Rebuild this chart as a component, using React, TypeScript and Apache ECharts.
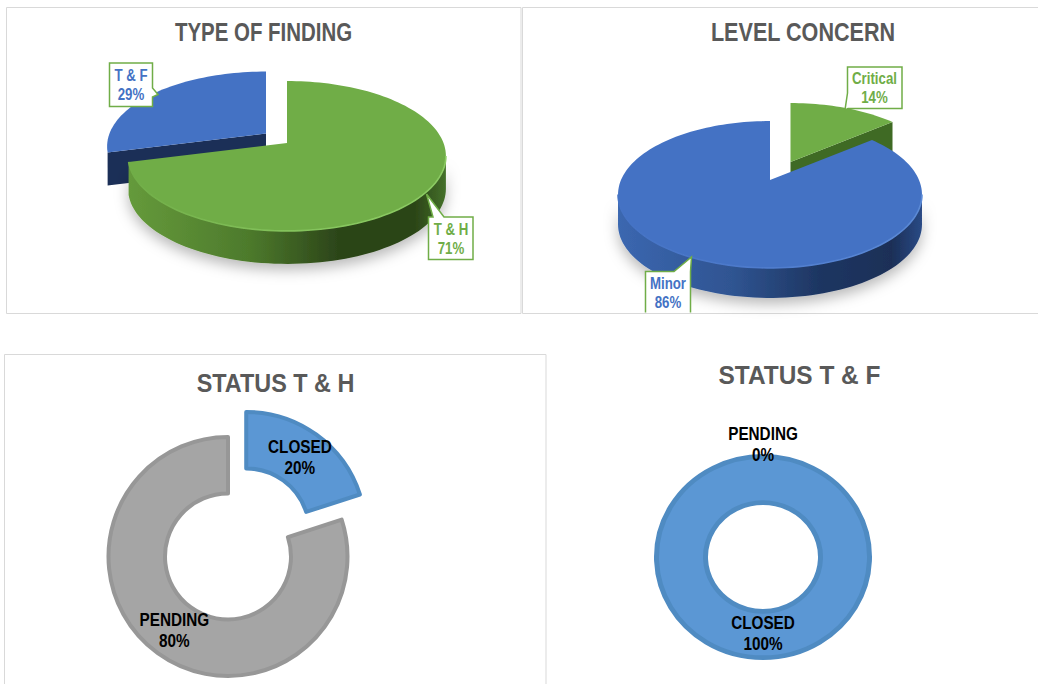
import React, { useEffect, useRef } from "react";
import * as echarts from "echarts";

// ---- data ----
const findingCategories = ["T & H", "T & F"];
const findingValues = [71, 29];
const concernCategories = ["Critical", "Minor"];
const concernValues = [14, 86];
const statusHCategories = ["CLOSED", "PENDING"];
const statusHValues = [20, 80];
const statusFCategories = ["PENDING", "CLOSED"];
const statusFValues = [0, 100];

const SANS = '"Liberation Sans",Arial,sans-serif';
const GREEN = "#70ad47";
const BLUE = "#4472c4";
const RING_BLUE = "#5b97d4";
const GRAY = "#a5a5a5";
const TITLE = "#595959";
const NARROW_LABEL = 0.85;
const NARROW_CALLOUT = 0.78;

type Pie3D = {
  cx: number; cy: number; X: number; Y: number; k: number; depth: number;
  colors: string[];
  cutColors: string[];
  offsets: number[][];
  front: number;
  sideStops: string[][];
  rimColors: string[][];
};

const pieFinding: Pie3D = {
  cx: 287, cy: 143, X: 156.5, Y: 72.7, k: 0.173, depth: 33,
  colors: [GREEN, BLUE],
  cutColors: ["#3f6a24", "#1b2f57"],
  offsets: [[0, 0], [-21, -9.5]],
  front: 0,
  sideStops: [["#659a3b", "#4d7a2c", "#2c4519", "#2b4417", "#44702a"], ["#2f5491", "#2f5491", "#1e3662", "#1b2f57", "#1b2f57"]],
  rimColors: [["#8ccb63", "#84c35c", "#70ad47"], ["#5b8ad6", "#4f7ccd", "#4472c4"]],
};

const pieConcern: Pie3D = {
  cx: 770, cy: 180, X: 149, Y: 70.6, k: 0.197, depth: 30,
  colors: [GREEN, BLUE],
  cutColors: ["#3f6a24", "#1b2f57"],
  offsets: [[20.5, -18], [0, 0]],
  front: 1,
  sideStops: [["#3f6a24", "#3f6a24", "#3f6a24", "#3f6a24", "#3f6a24"], ["#3b67b0", "#2f5491", "#1e3662", "#1b2f57", "#2a4a85"]],
  rimColors: [[GREEN, GREEN, GREEN], ["#5b8ad6", "#4f7ccd", "#4472c4"]],
};

function rimPoint(p: Pie3D, deg: number, off: number[], drop = 0) {
  const t = (deg * Math.PI) / 180;
  const s = 1 / (1 + p.k * Math.cos(t));
  return [p.cx + p.X * Math.sin(t) * s + off[0], p.cy - p.Y * Math.cos(t) * s + off[1] + drop];
}

function rimArc(p: Pie3D, a: number, b: number, off: number[], drop = 0) {
  const pts: number[][] = [];
  const n = Math.max(2, Math.ceil((b - a) / 2));
  for (let i = 0; i <= n; i++) pts.push(rimPoint(p, a + ((b - a) * i) / n, off, drop));
  return pts;
}

function pie3DRender(p: Pie3D, values: number[]) {
  const total = values.reduce((s, v) => s + v, 0);
  return (params: any, api: any) => {
    const i = params.dataIndex;
    const before = values.slice(0, i).reduce((s, v) => s + v, 0);
    const a = (before / total) * 360;
    const b = a + (api.value(0) / total) * 360;
    const off = p.offsets[i];
    const z = i === p.front ? 10 : 1;
    const apex = [p.cx + off[0], p.cy + off[1]];
    const children: any[] = [];
    const lim = (Math.acos(-p.k) * 180) / Math.PI;
    const sa = Math.max(a, lim);
    const sb = Math.min(b, 360 - lim);
    const grad = (stops: string[]) =>
      new echarts.graphic.LinearGradient(0, 0, 1, 0,
        stops.map((color, n) => ({ offset: [0, 0.38, 0.66, 0.9, 1][n] ?? n / (stops.length - 1), color })));
    if (sb - sa > 8) {
      const top = rimArc(p, sa, sb, off);
      const bottom = rimArc(p, sa, sb, off, p.depth).reverse();
      children.push({
        type: "polygon", z2: z,
        shape: { points: top.concat(bottom) },
        style: {
          fill: grad(p.sideStops[i]),
          shadowBlur: 14, shadowColor: "rgba(0,0,0,0.28)", shadowOffsetY: 6,
        },
      });
    }
    const cutFace = (deg: number) => {
      const r = rimPoint(p, deg, off);
      children.push({
        type: "polygon", z2: z,
        shape: { points: [apex, r, [r[0], r[1] + p.depth], [apex[0], apex[1] + p.depth]] },
        style: { fill: p.cutColors[i] },
      });
    };
    if (Math.sin((a * Math.PI) / 180) < -0.01) cutFace(a);
    if (Math.sin((b * Math.PI) / 180) > 0.01) cutFace(b);
    children.push({
      type: "polygon", z2: z,
      shape: { points: [apex].concat(rimArc(p, a, b, off)) },
      style: { fill: p.colors[i] },
    });
    if (sb - sa > 8) {
      const stops = p.rimColors[i];
      children.push({
        type: "polyline", z2: z,
        shape: { points: rimArc(p, sa, sb, off) },
        style: {
          fill: "none", lineWidth: 1.6,
          stroke: new echarts.graphic.LinearGradient(1, 0, 0, 0, [
            { offset: 0, color: stops[0] }, { offset: 0.5, color: stops[1] }, { offset: 1, color: stops[2] },
          ]),
        },
      });
    }
    return { type: "group", children };
  };
}

// Elliptical ring of the "STATUS T & F" chart.
const ringF = { cx: 763, cy: 557, r: 106.5, r0: 57.5, squash: 0.945, labelR: [118.5, 81.5] };

function ringRender(values: number[], names: string[]) {
  const total = values.reduce((s, v) => s + v, 0);
  return (params: any, api: any) => {
    const i = params.dataIndex;
    const before = values.slice(0, i).reduce((s, v) => s + v, 0);
    const val = api.value(0);
    const a = (before / total) * 2 * Math.PI;
    const b = a + (val / total) * 2 * Math.PI;
    const mid = (a + b) / 2;
    const children: any[] = [];
    if (val > 0) {
      children.push({
        type: "sector", x: ringF.cx, y: ringF.cy, scaleY: ringF.squash, z2: 1,
        shape: {
          cx: 0, cy: 0, r: ringF.r, r0: ringF.r0,
          startAngle: a - Math.PI / 2, endAngle: b - Math.PI / 2, clockwise: true,
        },
        style: { fill: RING_BLUE, stroke: "#4f8bc2", lineWidth: 5 },
      });
    }
    children.push({
      type: "text", z2: 5, scaleX: NARROW_LABEL,
      x: ringF.cx + Math.sin(mid) * ringF.labelR[i],
      y: ringF.cy - Math.cos(mid) * ringF.labelR[i] * ringF.squash,
      style: {
        text: `${names[i]}\n${Math.round((val / total) * 100)}%`,
        fill: "#000", fontFamily: SANS, fontWeight: "bold", fontSize: 18, lineHeight: 21,
        align: "center", verticalAlign: "middle",
      },
    });
    return { type: "group", children };
  };
}

// Exploded doughnut of the "STATUS T & H" chart.
const ringH = { cx: 228, cy: 556.5, r: 119.5, r0: 63, explode: [31, 0] };

const panels = [
  [6.5, 7.5, 514.5, 306],
  [522.5, 7.5, 530, 306],
  [4.5, 354.5, 541.5, 345],
];

const titles: [string, number, number, number][] = [
  ["TYPE OF FINDING", 263.5, 32, 0.787],
  ["LEVEL CONCERN", 803, 32, 0.83],
  ["STATUS T & H", 275.5, 383, 0.9],
  ["STATUS T & F", 799.5, 375, 0.94],
];

const callouts = [
  {
    text: `${findingCategories[1]}\n${findingValues[1]}%`, color: BLUE, x: 131, y: 84.5, open: false,
    points: [[109.5, 63], [152.5, 63], [152.5, 88], [158, 94.5], [152.5, 97], [152.5, 106.5], [109.5, 106.5]],
  },
  {
    text: `${findingCategories[0]}\n${findingValues[0]}%`, color: GREEN, x: 451, y: 238.5, open: false,
    points: [[428.5, 217], [433, 217], [426.5, 194], [444, 217], [473, 217], [473, 259.5], [428.5, 259.5]],
  },
  {
    text: `${concernCategories[0]}\n${concernValues[0]}%`, color: GREEN, x: 874.5, y: 87.5, open: false,
    points: [[847.5, 67], [902, 67], [902, 108.5], [848, 108.5], [845, 110], [847.5, 93]],
  },
  {
    text: `${concernCategories[1]}\n${concernValues[1]}%`, color: BLUE, x: 668, y: 292.5, open: true,
    points: [[645.5, 312.5], [645.5, 271.5], [674, 271.5], [691.5, 257], [690.5, 271.5], [690.5, 312.5]],
  },
];

function buildOption() {
  const graphic: any[] = [];
  panels.forEach(([x, y, width, height]) =>
    graphic.push({
      type: "rect", z: 0, silent: true,
      shape: { x, y, width, height },
      style: { fill: "none", stroke: "#d9d9d9", lineWidth: 1 },
    })
  );
  titles.forEach(([text, x, y, scaleX]) =>
    graphic.push({
      type: "text", z: 50, x, y, scaleX, silent: true,
      style: { text, fill: TITLE, fontFamily: SANS, fontSize: 26, fontWeight: "bold", align: "center", verticalAlign: "middle" },
    })
  );
  callouts.forEach((c) => {
    graphic.push({
      type: "polygon", z: 60, silent: true,
      shape: { points: c.points },
      style: { fill: "#fff", stroke: c.open ? "none" : GREEN, lineWidth: 1.5 },
    });
    if (c.open) {
      graphic.push({
        type: "polyline", z: 61, silent: true,
        shape: { points: c.points },
        style: { fill: "none", stroke: GREEN, lineWidth: 1.5 },
      });
    }
    graphic.push({
      type: "text", z: 62, x: c.x, y: c.y, scaleX: NARROW_CALLOUT, silent: true,
      style: {
        text: c.text, fill: c.color, fontFamily: SANS, fontSize: 17, fontWeight: "bold",
        lineHeight: 19.5, align: "center", verticalAlign: "middle",
      },
    });
  });

  // Doughnut labels follow the middle of each slice.
  const totalH = statusHValues.reduce((s, v) => s + v, 0);
  let run = 0;
  statusHValues.forEach((v, i) => {
    const mid = ((run + v / 2) / totalH) * 2 * Math.PI;
    run += v;
    const rad = (ringH.r + ringH.r0) / 2 + ringH.explode[i];
    graphic.push({
      type: "text", z: 62, silent: true, scaleX: NARROW_LABEL,
      x: ringH.cx + Math.sin(mid) * rad,
      y: ringH.cy - Math.cos(mid) * rad,
      style: {
        text: `${statusHCategories[i]}\n${Math.round((v / totalH) * 100)}%`,
        fill: "#000", fontFamily: SANS, fontSize: 18, fontWeight: "bold", lineHeight: 21,
        align: "center", verticalAlign: "middle",
      },
    });
  });

  return {
    animation: false,
    backgroundColor: "#fff",
    graphic,
    series: [
      {
        type: "custom", coordinateSystem: "none", silent: true,
        data: findingValues.map((value, i) => ({ name: findingCategories[i], value })),
        renderItem: pie3DRender(pieFinding, findingValues),
      },
      {
        type: "custom", coordinateSystem: "none", silent: true,
        data: concernValues.map((value, i) => ({ name: concernCategories[i], value })),
        renderItem: pie3DRender(pieConcern, concernValues),
      },
      {
        type: "pie", silent: true,
        center: [ringH.cx, ringH.cy], radius: [ringH.r0, ringH.r], startAngle: 90, clockwise: true,
        selectedMode: "single", selectedOffset: ringH.explode[0],
        label: { show: false },
        labelLine: { show: false },
        emphasis: { disabled: true },
        data: statusHCategories.map((name, i) => ({
          name, value: statusHValues[i], selected: i === 0,
          itemStyle: {
            color: i === 0 ? RING_BLUE : GRAY,
            borderColor: i === 0 ? "#4f8bc2" : "#979797",
            borderWidth: 4,
          },
        })),
      },
      {
        type: "custom", coordinateSystem: "none", silent: true,
        data: statusFValues.map((value, i) => ({ name: statusFCategories[i], value })),
        renderItem: ringRender(statusFValues, statusFCategories),
      },
    ],
  };
}

export default function App() {
  const ref = useRef<HTMLDivElement>(null);
  useEffect(() => {
    const chart = echarts.init(ref.current!, undefined, { renderer: "svg", width: 1038, height: 684 });
    chart.setOption(buildOption() as any);
    return () => chart.dispose();
  }, []);
  return <div ref={ref} style={{ position: "fixed", left: 0, top: 0, width: 1038, height: 684 }} />;
}
